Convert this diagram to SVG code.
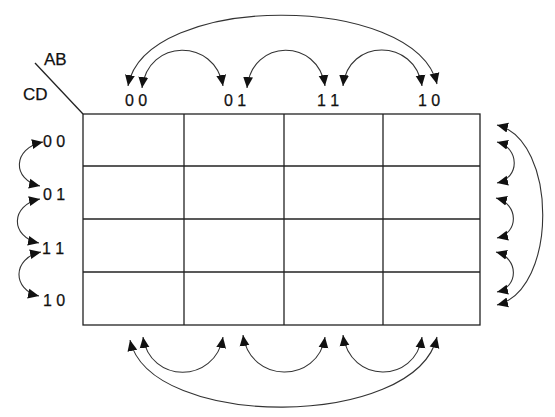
<svg xmlns="http://www.w3.org/2000/svg" width="555" height="417" viewBox="0 0 555 417">
<defs>
<style>
text{font-family:"Liberation Sans",Arial,sans-serif;font-size:16px;fill:#111;stroke:#111;stroke-width:0.25}
.h{font-size:17px}
.g{stroke:#222;stroke-width:1.3;fill:none}
.a{stroke:#333;stroke-width:1.1;fill:none;marker-start:url(#ah);marker-end:url(#ah)}
</style>
<marker id="ah" viewBox="0 0 10 10" refX="10" refY="5" markerWidth="11" markerHeight="11" markerUnits="userSpaceOnUse" orient="auto-start-reverse">
<path d="M0,0.5 L10,5 L0,9.5 z" fill="#111"/>
</marker>
</defs>
<rect width="555" height="417" fill="#fff"/>
<g id="header">
<line x1="35" y1="63" x2="83" y2="114" class="g"/>
<text class="h" x="44" y="65">AB</text>
<text class="h" x="23" y="100">CD</text>
</g>
<g id="grid">
<rect x="83" y="114" width="397" height="211" class="g"/>
<line x1="184" y1="114" x2="184" y2="325" class="g"/>
<line x1="284" y1="114" x2="284" y2="325" class="g"/>
<line x1="383" y1="114" x2="383" y2="325" class="g"/>
<line x1="83" y1="166" x2="480" y2="166" class="g"/>
<line x1="83" y1="219" x2="480" y2="219" class="g"/>
<line x1="83" y1="272" x2="480" y2="272" class="g"/>
</g>
<g id="col-labels">
<text x="125" y="106">0 0</text>
<text x="224" y="106">0 1</text>
<text x="317" y="106">1 1</text>
<text x="418" y="106">1 0</text>
</g>
<g id="row-labels">
<text x="43" y="147">0 0</text>
<text x="43" y="200">0 1</text>
<text x="42" y="254">1 1</text>
<text x="43" y="306">1 0</text>
</g>
<g id="connectors">
<path class="a" d="M128,86 C145,-8 415,-8 437,84"/>
<path class="a" d="M142,88 C148,38 215,38 223,86"/>
<path class="a" d="M247,88 C252,38 318,38 325,86"/>
<path class="a" d="M343,86 C348,38 415,38 422,86"/>
<path class="a" d="M43,142 C12,148 12,180 40,186"/>
<path class="a" d="M40,199 C10,205 10,237 39,243"/>
<path class="a" d="M41,252 C12,258 12,290 39,296"/>
<path class="a" d="M497,142 C520,148 520,178 497,183"/>
<path class="a" d="M496,198 C519,204 519,233 497,238"/>
<path class="a" d="M496,252 C519,258 519,287 497,292"/>
<path class="a" d="M497,125 C558,140 558,290 497,305"/>
<path class="a" d="M143,337 C150,384 215,384 223,337"/>
<path class="a" d="M243,335 C250,384 318,384 325,337"/>
<path class="a" d="M343,335 C350,384 415,384 422,337"/>
<path class="a" d="M130,340 C150,430 415,430 437,337"/>
</g>
</svg>
